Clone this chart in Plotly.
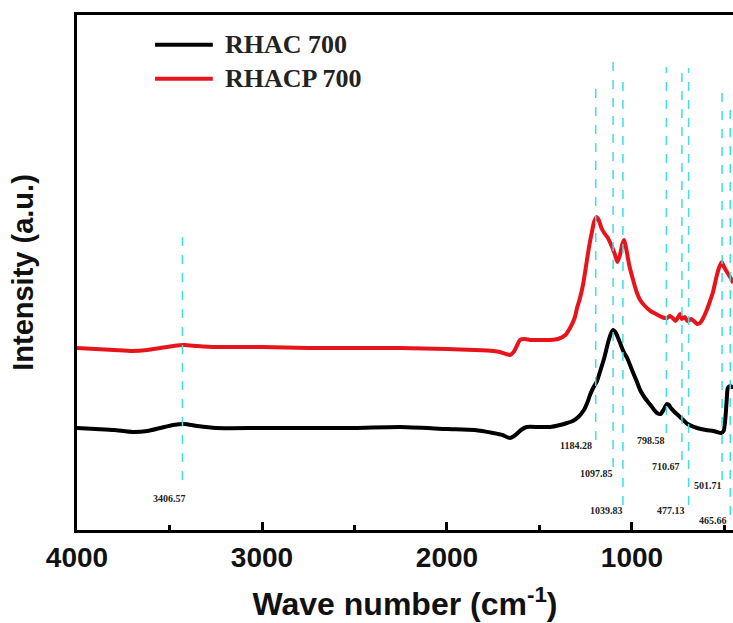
import plotly.graph_objects as go

# ---- data (wavenumber in cm-1, intensity in a.u.) ----
rhac_wn = [4000, 3900, 3800, 3700, 3620, 3550, 3480, 3420, 3350, 3250, 3000, 2750, 2500, 2255,
           2000, 1850, 1750, 1700, 1660, 1630, 1600, 1570, 1500, 1443, 1389, 1351, 1320, 1290,
           1260, 1240, 1227, 1210, 1189, 1170, 1150, 1130, 1115, 1102, 1090, 1075, 1060, 1045,
           1026, 1000, 975, 956, 930, 900, 880, 865, 845, 830, 811, 800, 790, 770, 740, 700,
           648, 600, 560, 540, 520, 505, 495, 488, 482, 470, 452]
rhac_py = [428, 429, 430, 432, 431, 428, 425, 424, 426, 428, 428, 428, 428, 427,
           429, 430, 433, 435, 438, 435, 430, 427, 427, 427, 425, 423, 421, 417,
           410, 402, 395, 388, 381, 370, 358, 343, 334, 330, 332, 338, 345, 352,
           358, 370, 381, 390, 398, 405, 410, 413, 414, 410, 404, 405, 408, 412, 417, 424,
           428, 430, 431, 432, 433, 431, 418, 400, 388, 386, 388]

rhacp_wn = [4000, 3900, 3800, 3700, 3620, 3550, 3480, 3420, 3350, 3250, 3000, 2750, 2500, 2255,
            2000, 1850, 1750, 1714, 1680, 1660, 1640, 1620, 1606, 1580, 1550, 1500, 1443, 1400,
            1360, 1335, 1310, 1297, 1281, 1265, 1250, 1235, 1220, 1205, 1192, 1180, 1165, 1150,
            1130, 1110, 1095, 1079, 1065, 1052, 1042, 1030, 1015, 994, 975, 956, 930, 900, 870,
            840, 811, 795, 780, 765, 750, 740, 730, 715, 700, 680, 660, 648, 632, 615, 600, 580,
            562, 545, 530, 515, 505, 490, 470, 452]
rhacp_py = [348, 349, 350, 351, 350, 348, 346, 345, 346, 347, 347, 348, 348, 348,
            349, 350, 351, 352, 354, 355, 352, 345, 340, 339, 340, 340, 340, 339,
            335, 328, 318, 308, 298, 285, 268, 250, 235, 222, 217, 220, 228, 233,
            238, 246, 253, 262, 255, 244, 240, 250, 265, 280, 292, 300, 306, 311, 314,
            317, 318, 316, 318, 321, 317, 314, 319, 317, 321, 319, 322, 324, 323, 318, 312, 302,
            292, 278, 268, 262, 266, 271, 277, 283]

# convert to intensity (a.u.)
rhac_int = [530 - v for v in rhac_py]
rhacp_int = [530 - v for v in rhacp_py]

# dashed marker lines: position, top and bottom intensity
mark_wn = [3430, 1196, 1102, 1049, 814, 730, 694, 513, 469]
mark_top = [295, 450, 468, 452, 463, 463, 462, 437, 427]
mark_bot = [50, 90, 63, 25, 97, 70, 25, 50, 15]

# peak labels
label_text = ["3406.57", "1184.28", "1097.85", "1039.83", "798.58", "710.67", "477.13", "501.71", "465.66"]
label_wn = [3500, 1302, 1194, 1140, 896, 815, 789, 588, 478]
label_int = [32, 85, 57, 20, 90, 64, 20, 45, 10]
label_anchor = ["center"] * 8 + ["right"]

series_names = ["RHAC 700", "RHACP 700"]
series_colors = ["#000000", "#e8141c"]

fig = go.Figure()
fig.add_trace(go.Scatter(x=rhac_wn, y=rhac_int, mode="lines", name=series_names[0],
                         line=dict(color=series_colors[0], width=4, shape="spline", smoothing=0.6),
                         showlegend=False))
fig.add_trace(go.Scatter(x=rhacp_wn, y=rhacp_int, mode="lines", name=series_names[1],
                         line=dict(color=series_colors[1], width=4, shape="spline", smoothing=0.6),
                         showlegend=False))

for xw, yt, yb in zip(mark_wn, mark_top, mark_bot):
    fig.add_trace(go.Scatter(x=[xw, xw], y=[yb, yt], mode="lines", showlegend=False,
                             hoverinfo="skip",
                             line=dict(color="#3fdde6", width=1.5, dash="dash")))

for t, xw, yv, xa in zip(label_text, label_wn, label_int, label_anchor):
    fig.add_annotation(x=xw, y=yv, xref="x", yref="y", text=t, showarrow=False, xanchor=xa,
                       font=dict(family="Liberation Serif, Times New Roman", size=10,
                                 color="#222222", weight="bold"))

# legend (drawn manually to match long sample lines)
leg_y = [0.942, 0.876]
for name, col, ly in zip(series_names, series_colors, leg_y):
    fig.add_shape(type="line", xref="paper", yref="paper", x0=0.119, x1=0.207, y0=ly, y1=ly,
                  line=dict(color=col, width=4))
    fig.add_annotation(xref="paper", yref="paper", x=0.2226, y=ly, xanchor="left",
                       yanchor="middle", text=name, showarrow=False,
                       font=dict(family="Liberation Serif, Times New Roman", size=26,
                                 color="#222222", weight="bold"))

fig.update_layout(
    width=733, height=623,
    margin=dict(l=77, r=0, t=15, b=93),
    paper_bgcolor="white", plot_bgcolor="white",
    font=dict(family="Liberation Sans, Arial", color="#111111"),
)
fig.update_xaxes(
    range=[4000, 454], showgrid=False, zeroline=False,
    showline=True, linecolor="black", linewidth=3, mirror=True,
    ticks="inside", ticklen=8, tickwidth=3, tickcolor="black",
    tickvals=[4000, 3000, 2000, 1000],
    ticktext=["4000", "3000", "2000", "1000"],
    tickfont=dict(size=28, weight="bold", family="Liberation Sans, Arial", color="#111111"),
    minor=dict(tickvals=[3500, 2500, 1500, 500], ticks="inside", ticklen=5, tickwidth=3,
               tickcolor="black"),
    title=dict(text="Wave number (cm<sup>-1</sup>)", standoff=22,
               font=dict(size=32, weight="bold", family="Liberation Sans, Arial", color="#111111")),
)
fig.update_yaxes(
    range=[0, 515], showgrid=False, zeroline=False, showticklabels=False, ticks="",
    showline=True, linecolor="black", linewidth=3,
    title=dict(text="Intensity (a.u.)", standoff=32,
               font=dict(size=29, weight="bold", family="Liberation Sans, Arial", color="#111111")),
)

fig.write_html("out.html")
